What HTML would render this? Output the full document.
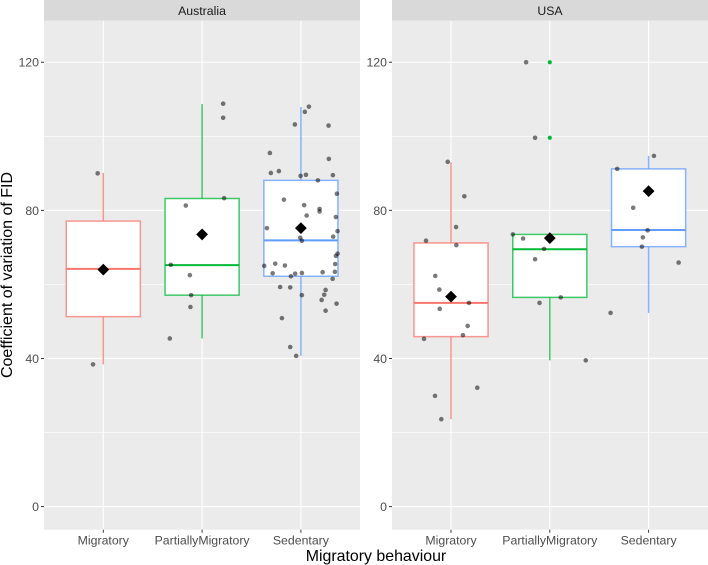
<!DOCTYPE html>
<html>
<head>
<meta charset="utf-8">
<title>Coefficient of variation of FID</title>
<style>
html,body{margin:0;padding:0;background:#fff;}
svg{display:block;font-family:"Liberation Sans",sans-serif;}
</style>
</head>
<body>
<svg id="chart" width="708" height="565" viewBox="0 0 708 565" xmlns="http://www.w3.org/2000/svg">
<text transform="translate(12,275) rotate(-90)" text-anchor="middle" font-size="16" fill="#000">Coefficient of variation of FID</text>
<text x="376" y="561" text-anchor="middle" font-size="15.9" fill="#000">Migratory behaviour</text>
</svg>
<script>
const facets = ['Australia', 'USA'];
const categories = ['Migratory', 'PartiallyMigratory', 'Sedentary'];
const colors = ['#F8766D', '#00BA38', '#619CFF'];
const yTicks = [0, 40, 80, 120];
const yMinorTicks = [20, 60, 100];

const whiskerHigh = [[90.1, 108.7, 107.9], [93, 73.5, 94.7]];
const boxTop = [[77.1, 83.2, 88.1], [71.2, 73.5, 91.2]];
const medians = [[64.2, 65.2, 71.9], [55, 69.5, 74.7]];
const boxBottom = [[51.3, 57.1, 62.2], [45.9, 56.5, 70.2]];
const whiskerLow = [[38.4, 45.4, 40.7], [23.6, 39.5, 52.3]];
const means = [[64, 73.5, 75.2], [56.7, 72.5, 85.2]];

const outliersUsaPartial = [120, 99.6];

const ausMigratoryJitter = [-0.057, -0.104];
const ausMigratoryValues = [90, 38.4];
const ausPartialJitter = [0.213, 0.213, 0.223, -0.165, -0.317, -0.124, -0.111, -0.118, -0.327];
const ausPartialValues = [108.8, 105, 83.3, 81.3, 65.3, 62.5, 57.1, 53.9, 45.4];
const ausSedentaryJitter = [0.081, 0.040, -0.061, 0.280, -0.314, 0.283, -0.304, -0.223, -0.003, 0.051, 0.324, 0.172, 0.364, -0.172, 0.033, 0.189, 0.189, 0.058, 0.354, -0.344, 0.371, 0.327, -0.007, 0.010, 0.371, 0.354, -0.260, -0.162, -0.371, 0.347, -0.286, -0.058, 0.010, 0.220, 0.344, -0.101, 0.321, -0.210, -0.108, 0.250, 0.010, 0.236, 0.210, 0.361, 0.250, -0.192, -0.108, -0.048];
const ausSedentaryValues = [108, 106.6, 103.2, 102.9, 95.5, 93.9, 90.1, 90.6, 89.3, 89.6, 89.5, 88.1, 84.5, 82.9, 81.4, 80.4, 79.7, 78.6, 78.2, 75.2, 74.4, 72.9, 72.6, 71.8, 68.3, 67.7, 65.6, 65.1, 65, 65.5, 63, 62.9, 63.1, 63.3, 63.4, 62.2, 61.5, 59.3, 59.2, 58.5, 57.1, 57.2, 55.8, 54.8, 52.9, 50.9, 43.1, 40.7];
const usaMigratoryJitter = [-0.033, 0.135, 0.051, -0.253, 0.054, -0.159, -0.118, 0.182, -0.114, 0.169, 0.121, -0.273, -0.162, 0.266, -0.098];
const usaMigratoryValues = [93.1, 83.8, 75.5, 71.8, 70.6, 62.3, 58.6, 55, 53.4, 48.8, 46.3, 45.3, 29.9, 32.1, 23.6];
const usaPartialJitter = [-0.240, -0.149, -0.374, -0.270, -0.058, -0.149, 0.111, -0.104, 0.364];
const usaPartialValues = [120, 99.6, 73.5, 72.4, 69.6, 66.8, 56.5, 55, 39.5];
const usaSedentaryJitter = [0.054, -0.318, -0.156, -0.010, -0.058, -0.068, 0.304, -0.385];
const usaSedentaryValues = [94.7, 91.2, 80.7, 74.6, 72.7, 70.2, 65.9, 52.3];

const jitterByFacet = [[ausMigratoryJitter, ausPartialJitter, ausSedentaryJitter], [usaMigratoryJitter, usaPartialJitter, usaSedentaryJitter]];
const valuesByFacet = [[ausMigratoryValues, ausPartialValues, ausSedentaryValues], [usaMigratoryValues, usaPartialValues, usaSedentaryValues]];

const svg = document.getElementById('chart');
const NS = 'http://www.w3.org/2000/svg';
const panelLeft = [44, 392];
const panelRight = [360, 708];
const panelTop = 20.7;
const panelBottom = 529.7;
const firstCategoryX = [103.3, 451];
const categoryStep = 98.8;
const boxHalfWidth = 0.375;

function yScale(v) { return 506.6 - v * 3.703; }
function xScale(f, c) { return firstCategoryX[f] + c * categoryStep; }

function make(tag, attrs, parent) {
  const el = document.createElementNS(NS, tag);
  for (const k in attrs) el.setAttribute(k, attrs[k]);
  (parent || svg).appendChild(el);
  return el;
}

facets.forEach(function (facet, f) {
  const strip = make('rect', {x: panelLeft[f], y: 0, width: panelRight[f] - panelLeft[f], height: panelTop, fill: '#D9D9D9'});
  
  

  const stripLabel = make('text', {x: (panelLeft[f] + panelRight[f]) / 2, y: 15, 'text-anchor': 'middle', 'font-size': 12.3, fill: '#1A1A1A'});
  stripLabel.textContent = facet;
  
  

  const panel = make('rect', {x: panelLeft[f], y: panelTop, width: panelRight[f] - panelLeft[f], height: panelBottom - panelTop, fill: '#EBEBEB'});
  
  

  yMinorTicks.forEach(function (t) {
    const g = make('line', {x1: panelLeft[f], x2: panelRight[f], y1: yScale(t), y2: yScale(t), stroke: '#fff', 'stroke-width': 0.6});
    
    
  });

  yTicks.forEach(function (t) {
    const g = make('line', {x1: panelLeft[f], x2: panelRight[f], y1: yScale(t), y2: yScale(t), stroke: '#fff', 'stroke-width': 1.1});
    
    

    const tick = make('line', {x1: panelLeft[f] - 3, x2: panelLeft[f], y1: yScale(t), y2: yScale(t), stroke: '#333', 'stroke-width': 1});
    
    

    const label = make('text', {x: panelLeft[f] - 5, y: yScale(t) + 4.4, 'text-anchor': 'end', 'font-size': 12.3, fill: '#4D4D4D'});
    label.textContent = t;
    
    
  });

  categories.forEach(function (cat, c) {
    const cx = xScale(f, c);
    const g = make('line', {x1: cx, x2: cx, y1: panelTop, y2: panelBottom, stroke: '#fff', 'stroke-width': 1.1});
    
    

    const tick = make('line', {x1: cx, x2: cx, y1: panelBottom, y2: panelBottom + 3, stroke: '#333', 'stroke-width': 1});
    
    

    const label = make('text', {x: cx, y: panelBottom + 15, 'text-anchor': 'middle', 'font-size': 12.3, fill: '#4D4D4D'});
    label.textContent = cat;
    
    
  });

  categories.forEach(function (cat, c) {
    const cx = xScale(f, c);
    const hw = boxHalfWidth * categoryStep;
    const col = colors[c];

    const upper = make('line', {x1: cx, x2: cx, y1: yScale(whiskerHigh[f][c]), y2: yScale(boxTop[f][c]), stroke: col, 'stroke-width': 1.5, opacity: 0.75});
    
    

    const lower = make('line', {x1: cx, x2: cx, y1: yScale(boxBottom[f][c]), y2: yScale(whiskerLow[f][c]), stroke: col, 'stroke-width': 1.5, opacity: 0.75});
    
    

    const box = make('rect', {x: cx - hw, y: yScale(boxTop[f][c]), width: 2 * hw, height: yScale(boxBottom[f][c]) - yScale(boxTop[f][c]), fill: '#fff', stroke: col, 'stroke-width': 1.5, 'stroke-opacity': 0.75});
    
    

    const med = make('line', {x1: cx - hw, x2: cx + hw, y1: yScale(medians[f][c]), y2: yScale(medians[f][c]), stroke: col, 'stroke-width': 2});
    
    

    if (f === 1 && c === 1) {
      outliersUsaPartial.forEach(function (v) {
        const o = make('circle', {cx: cx, cy: yScale(v), r: 2.1, fill: col});
        
        
      });
    }

    const my = yScale(means[f][c]);
    const d = 5.9;
    const diamond = make('polygon', {points: [cx, my - d, cx + d, my, cx, my + d, cx - d, my].join(' '), fill: '#000'});
    
    

    valuesByFacet[f][c].forEach(function (v, i) {
      const p = make('circle', {cx: cx + jitterByFacet[f][c][i] * categoryStep, cy: yScale(v), r: 2.3, fill: '#000', 'fill-opacity': 0.52});
      
      
    });
  });
});
</script>
</body>
</html>
